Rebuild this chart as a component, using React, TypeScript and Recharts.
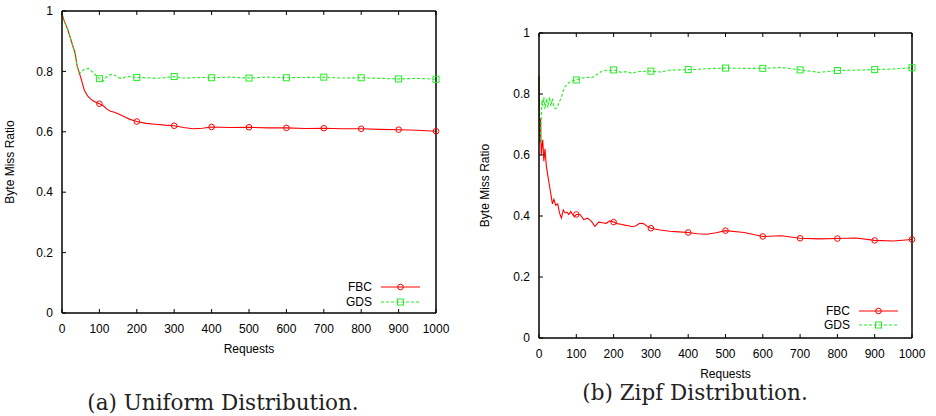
import React from 'react';
import { LineChart, Line, XAxis, YAxis } from 'recharts';

// Uniform distribution (a)
const uniX = [0, 5, 10, 15, 20, 25, 30, 35, 40, 45, 50, 60, 70, 80, 90, 100, 110, 120, 130, 140, 150, 160, 170, 180, 200, 225, 250, 275, 300, 325, 350, 375, 400, 450, 500, 550, 600, 650, 700, 750, 800, 850, 900, 950, 1000];
const uniFbc = [0.99, 0.97, 0.955, 0.94, 0.92, 0.9, 0.88, 0.86, 0.82, 0.8, 0.78, 0.737, 0.716, 0.705, 0.698, 0.693, 0.687, 0.675, 0.668, 0.665, 0.66, 0.654, 0.648, 0.642, 0.634, 0.628, 0.625, 0.622, 0.62, 0.614, 0.61, 0.612, 0.616, 0.614, 0.615, 0.613, 0.613, 0.611, 0.612, 0.61, 0.61, 0.608, 0.607, 0.605, 0.602];
const uniGds = [0.99, 0.97, 0.955, 0.94, 0.92, 0.9, 0.88, 0.86, 0.82, 0.798, 0.795, 0.808, 0.81, 0.8, 0.788, 0.776, 0.768, 0.783, 0.79, 0.788, 0.78, 0.776, 0.782, 0.783, 0.78, 0.779, 0.777, 0.779, 0.783, 0.778, 0.779, 0.78, 0.779, 0.781, 0.778, 0.781, 0.779, 0.78, 0.781, 0.778, 0.779, 0.777, 0.775, 0.777, 0.774];

// Zipf distribution (b)
const zipfX = [0, 2, 4, 6, 8, 10, 13, 16, 20, 24, 28, 32, 36, 40, 45, 50, 55, 60, 65, 70, 75, 80, 85, 90, 95, 100, 110, 120, 130, 140, 150, 160, 170, 180, 190, 200, 210, 220, 230, 240, 250, 260, 270, 280, 290, 300, 325, 350, 375, 400, 425, 450, 475, 500, 550, 600, 650, 700, 750, 800, 850, 900, 950, 1000];
const zipfFbc = [0.86, 0.64, 0.72, 0.6, 0.63, 0.65, 0.58, 0.62, 0.56, 0.53, 0.5, 0.47, 0.44, 0.455, 0.435, 0.44, 0.41, 0.393, 0.42, 0.41, 0.412, 0.405, 0.415, 0.405, 0.398, 0.405, 0.405, 0.388, 0.393, 0.383, 0.366, 0.38, 0.378, 0.376, 0.384, 0.38, 0.375, 0.373, 0.37, 0.368, 0.365, 0.368, 0.376, 0.375, 0.366, 0.36, 0.354, 0.35, 0.348, 0.346, 0.342, 0.34, 0.345, 0.352, 0.346, 0.333, 0.335, 0.327, 0.325, 0.326, 0.328, 0.32, 0.318, 0.323];
const zipfGds = [0.86, 0.66, 0.64, 0.72, 0.78, 0.76, 0.79, 0.75, 0.785, 0.755, 0.79, 0.76, 0.785, 0.755, 0.752, 0.76, 0.775, 0.79, 0.81, 0.825, 0.83, 0.838, 0.84, 0.843, 0.845, 0.846, 0.85, 0.853, 0.855, 0.852, 0.86, 0.868, 0.876, 0.878, 0.877, 0.879, 0.875, 0.871, 0.873, 0.872, 0.867, 0.872, 0.874, 0.874, 0.876, 0.875, 0.872, 0.878, 0.879, 0.88, 0.881, 0.883, 0.884, 0.885, 0.884, 0.884, 0.887, 0.879, 0.871, 0.877, 0.878, 0.88, 0.882, 0.886];

const xTicks = [0, 100, 200, 300, 400, 500, 600, 700, 800, 900, 1000];
const yTicks = [0, 0.2, 0.4, 0.6, 0.8, 1];

const RED = '#ff0000';
const GREEN = '#22ee22';
const FONT = '"Liberation Sans", Arial, sans-serif';
const tickStyle = { fill: '#000', fontSize: 12, fontFamily: FONT };
const axisLine = { stroke: '#000', strokeWidth: 1.5 };
const tickLine = { stroke: '#000' };

const marker = (kind: 'circle' | 'square', color: string) => (props: any) => {
  const { cx, cy, payload, index } = props;
  if (!payload || payload.x === 0 || payload.x % 100 !== 0) return <g key={index} />;
  if (kind === 'circle') {
    return <circle key={index} cx={cx} cy={cy} r={2.8} fill="none" stroke={color} strokeWidth={1} />;
  }
  return <rect key={index} x={cx - 3} y={cy - 3} width={6} height={6} fill="none" stroke={color} strokeWidth={1} />;
};

const LegendBox = ({ left, top, gap }: { left: number; top: number; gap: number }) => (
  <div style={{ position: 'absolute', left, top, fontFamily: FONT, fontSize: 12, color: '#000' }}>
    {[
      { name: 'FBC', color: RED, dash: undefined, kind: 'circle' },
      { name: 'GDS', color: GREEN, dash: '3 2', kind: 'square' },
    ].map((s) => (
      <div key={s.name} style={{ display: 'flex', alignItems: 'center', height: gap }}>
        <span style={{ width: 42, textAlign: 'right', lineHeight: '12px' }}>{s.name}</span>
        <svg width={40} height={10} style={{ marginLeft: 9 }}>
          <line x1={0} y1={5} x2={39} y2={5} stroke={s.color} strokeWidth={1.2} strokeDasharray={s.dash} />
          {s.kind === 'circle' ? (
            <circle cx={19.5} cy={5} r={2.8} fill="none" stroke={s.color} />
          ) : (
            <rect x={16.5} y={2} width={6} height={6} fill="none" stroke={s.color} />
          )}
        </svg>
      </div>
    ))}
  </div>
);

type PanelProps = {
  xs: number[];
  fbc: number[];
  gds: number[];
  width: number;
  height: number;
  top: number;
  yAxisWidth: number;
  right: number;
  labelOffset: number;
};

const Panel = (p: PanelProps) => {
  const data = p.xs.map((x, i) => ({ x, fbc: p.fbc[i], gds: p.gds[i] }));
  return (
    <LineChart width={p.width} height={p.height} data={data} margin={{ top: p.top, right: p.right, bottom: 0, left: 0 }}>
      <XAxis
        dataKey="x"
        type="number"
        domain={[0, 1000]}
        ticks={xTicks}
        height={47}
        tick={tickStyle}
        tickSize={-4}
        tickMargin={15}
        axisLine={axisLine}
        tickLine={tickLine}
        label={{ value: 'Requests', position: 'insideBottom', offset: 7, style: { fill: '#000', fontSize: 12, fontFamily: FONT } }}
      />
      <XAxis
        xAxisId="top"
        orientation="top"
        dataKey="x"
        type="number"
        domain={[0, 1000]}
        ticks={xTicks}
        height={1}
        tickFormatter={() => ''}
        tickSize={-4}
        axisLine={axisLine}
        tickLine={tickLine}
      />
      <YAxis
        type="number"
        domain={[0, 1]}
        ticks={yTicks}
        width={p.yAxisWidth}
        tick={tickStyle}
        tickSize={-4}
        tickMargin={13}
        axisLine={axisLine}
        tickLine={tickLine}
        tickFormatter={(v: number) => (v === 0 || v === 1 ? String(v) : v.toFixed(1))}
        label={{ value: 'Byte Miss Ratio', angle: -90, position: 'insideLeft', offset: p.labelOffset, style: { textAnchor: 'middle', fill: '#000', fontSize: 12, fontFamily: FONT } }}
      />
      <YAxis
        yAxisId="right"
        orientation="right"
        type="number"
        domain={[0, 1]}
        ticks={yTicks}
        width={1}
        tickFormatter={() => ''}
        tickSize={-4}
        axisLine={axisLine}
        tickLine={tickLine}
      />
      <Line
        dataKey="fbc"
        type="linear"
        stroke={RED}
        strokeWidth={1.1}
        dot={marker('circle', RED)}
        activeDot={false}
        isAnimationActive={false}
      />
      <Line
        dataKey="gds"
        type="linear"
        stroke={GREEN}
        strokeWidth={1.1}
        strokeDasharray="3 2"
        dot={marker('square', GREEN)}
        activeDot={false}
        isAnimationActive={false}
      />
    </LineChart>
  );
};

const captionStyle: React.CSSProperties = {
  position: 'absolute',
  fontFamily: '"DejaVu Serif", serif',
  fontSize: 21.5,
  lineHeight: '18px',
  color: '#222',
  whiteSpace: 'nowrap',
  transform: 'translate(-50%, -50%)',
};

export default function App() {
  return (
    <div style={{ position: 'absolute', left: 0, top: 0, width: 936, height: 416, background: '#fff', overflow: 'hidden' }}>
      <div style={{ position: 'absolute', left: 0, top: 0 }}>
        <Panel xs={uniX} fbc={uniFbc} gds={uniGds} width={470} height={360} top={10} yAxisWidth={62} right={33} labelOffset={10} />
      </div>
      <div style={{ position: 'absolute', left: 470, top: 0 }}>
        <Panel xs={zipfX} fbc={zipfFbc} gds={zipfGds} width={466} height={385} top={32} yAxisWidth={69} right={23} labelOffset={15} />
      </div>
      <LegendBox left={330} top={279} gap={15} />
      <LegendBox left={808} top={304} gap={14} />
      <div style={{ ...captionStyle, left: 223, top: 403 }}>(a) Uniform Distribution.</div>
      <div style={{ ...captionStyle, left: 695, top: 393 }}>(b) Zipf Distribution.</div>
    </div>
  );
}
